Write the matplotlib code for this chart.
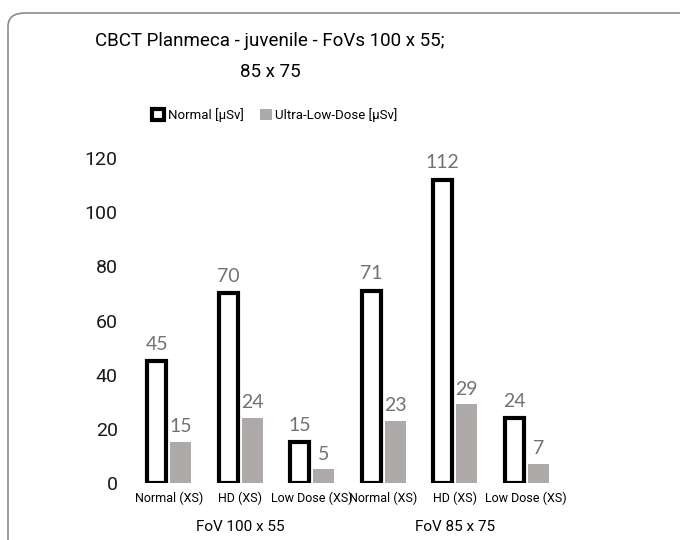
import matplotlib
matplotlib.use('Agg')
import matplotlib.pyplot as plt
from matplotlib.patches import FancyBboxPatch, Patch
import numpy as np

categories = ['Normal (XS)', 'HD (XS)', 'Low Dose (XS)', 'Normal (XS)', 'HD (XS)', 'Low Dose (XS)']
groups = ['FoV 100 x 55', 'FoV 85 x 75']
normal = [45, 70, 15, 71, 112, 24]
ultra = [15, 24, 5, 23, 29, 7]
yticks = [0, 20, 40, 60, 80, 100, 120]

font = 'Roboto'
gray = '#aeaaaa'
label_gray = '#767171'

fig = plt.figure(figsize=(6.8, 5.4), dpi=100)
border = FancyBboxPatch((8/680, 1 - 560/540), 700/680, 560/540 - 13/540,
                        boxstyle='round,pad=0,rounding_size=0.025',
                        transform=fig.transFigure, fill=False,
                        edgecolor='#8c8c8c', linewidth=1.2)
fig.patches.append(border)

ax = fig.add_axes([133/680, 1 - 483/540, 429/680, 325/540])
x = np.arange(len(categories))
off = 0.168
ax.bar(x - off, normal, 0.26, facecolor='white', edgecolor='black', linewidth=3)
ax.bar(x + off, ultra, 0.30, color=gray)

for xi, v in zip(x, normal):
    ax.annotate(str(v), (xi - off, v), xytext=(0, 6), textcoords='offset points',
                ha='center', va='bottom', fontsize=14, color=label_gray, family='Lato')
for xi, v in zip(x, ultra):
    ax.annotate(str(v), (xi + off, v), xytext=(0, 5), textcoords='offset points',
                ha='center', va='bottom', fontsize=14, color=label_gray, family='Lato')

ax.set_xlim(-0.5, len(categories) - 0.5)
ax.set_ylim(0, 120)
ax.set_yticks(yticks)
ax.set_yticklabels([str(t) for t in yticks], fontsize=14, family=font, color='#1a1a1a')
ax.set_xticks(x)
ax.set_xticklabels(categories, fontsize=9, family=font)
ax.tick_params(length=0)
ax.tick_params(axis='y', pad=11)
ax.tick_params(axis='x', pad=6)
for s in ax.spines.values():
    s.set_visible(False)

for i, g in enumerate(groups):
    ax.text(3 * i + 1, -0.135, g, transform=ax.get_xaxis_transform(),
            ha='center', va='center', fontsize=11, family=font)

fig.text(270/680, 1 - 41/540, 'CBCT Planmeca - juvenile - FoVs 100 x 55;',
         ha='center', va='center', fontsize=13.5, family=font)
fig.text(270/680, 1 - 72/540, '85 x 75', ha='center', va='center', fontsize=13.5, family=font)

handles = [Patch(facecolor='white', edgecolor='black', linewidth=3, label='Normal [µSv]'),
           Patch(facecolor=gray, label='Ultra-Low-Dose [µSv]')]
fig.legend(handles=handles, loc='center', bbox_to_anchor=(275/680, 1 - 115/540),
           ncol=2, frameon=False, prop={'family': font, 'size': 9.5},
           handlelength=0.9, handleheight=0.9, handletextpad=0.3, columnspacing=1.2)

fig.savefig('out.png', dpi=100)
